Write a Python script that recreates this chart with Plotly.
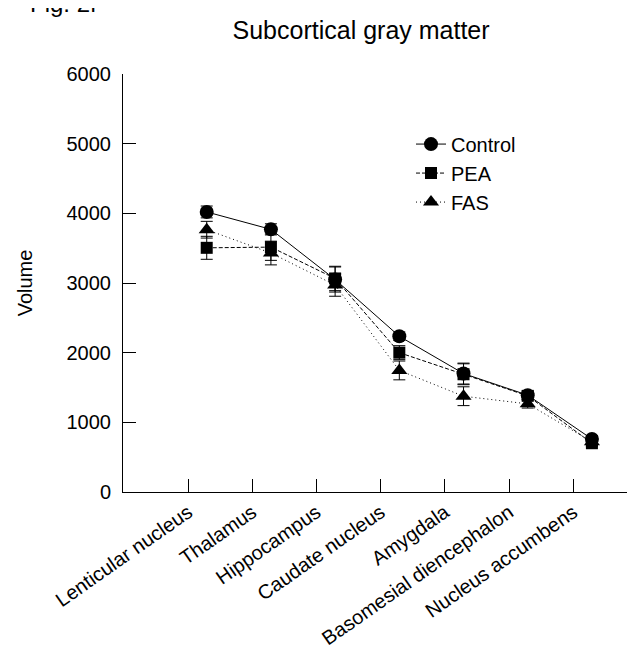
import plotly.graph_objects as go

regions = ["Lenticular nucleus", "Thalamus", "Hippocampus", "Caudate nucleus",
           "Amygdala", "Basomesial diencephalon", "Nucleus accumbens"]
x_idx = list(range(len(regions)))

control = [4020, 3770, 3050, 2235, 1700, 1390, 760]
control_err = [85, 80, 180, 60, 150, 60, 50]
pea = [3505, 3515, 3065, 2000, 1690, 1380, 700]
pea_err = [165, 190, 175, 100, 150, 60, 50]
fas = [3765, 3430, 2970, 1745, 1375, 1265, 720]
fas_err = [120, 170, 160, 135, 135, 60, 50]

y_ticks = [0, 1000, 2000, 3000, 4000, 5000, 6000]

FONT = "Liberation Sans, Arial, sans-serif"

fig = go.Figure()

def add(name, y, err, dash, symbol, size):
    fig.add_trace(go.Scatter(
        x=x_idx, y=y, name=name, mode="lines+markers",
        line=dict(color="black", width=1, dash=dash),
        marker=dict(symbol=symbol, size=size, color="black"),
        error_y=dict(type="data", array=err, visible=True, color="black",
                     thickness=1, width=6),
    ))

add("Control", control, control_err, "solid", "circle", 14)
add("PEA", pea, pea_err, "4px,2px", "square", 12)
add("FAS", fas, fas_err, "1px,3px", "triangle-up", 14)

fig.add_annotation(text="Fig. 2f", xref="paper", yref="paper",
                   x=-0.186, y=1.131, xanchor="left", yanchor="bottom",
                   showarrow=False, font=dict(size=24, color="black", family=FONT))

fig.update_layout(
    width=635, height=654,
    paper_bgcolor="white", plot_bgcolor="white",
    margin=dict(l=115, r=8, t=66, b=169.5, autoexpand=False),
    font=dict(family=FONT, color="black", size=20),
    title=dict(text="Subcortical gray matter", x=0.556, xref="container",
               y=0.966, yref="container", xanchor="center", yanchor="middle",
               font=dict(size=25, family=FONT, color="black")),
    showlegend=True,
    legend=dict(x=0.5625, y=0.879, xanchor="left", yanchor="top",
                bgcolor="rgba(0,0,0,0)", font=dict(size=20, family=FONT),
                tracegroupgap=0, itemwidth=30),
    xaxis=dict(range=[-1.304, 6.671], tickmode="array", automargin=False,
               tickvals=[i - 0.29 for i in x_idx], ticktext=regions,
               tickangle=-35, ticks="inside", ticklen=13, tickcolor="black",
               showline=True, linecolor="black", linewidth=1,
               showgrid=False, zeroline=False,
               tickfont=dict(size=20, family=FONT)),
    yaxis=dict(range=[0, 6000], tickmode="array", tickvals=y_ticks, automargin=False,
               ticks="inside", ticklen=13, tickcolor="black",
               showline=True, linecolor="black", linewidth=1,
               showgrid=False, zeroline=False, ticklabelstandoff=7,
               tickfont=dict(size=20, family=FONT),
               title=dict(text="Volume", standoff=28, font=dict(size=20, family=FONT))),
)

fig.write_html("out.html")
